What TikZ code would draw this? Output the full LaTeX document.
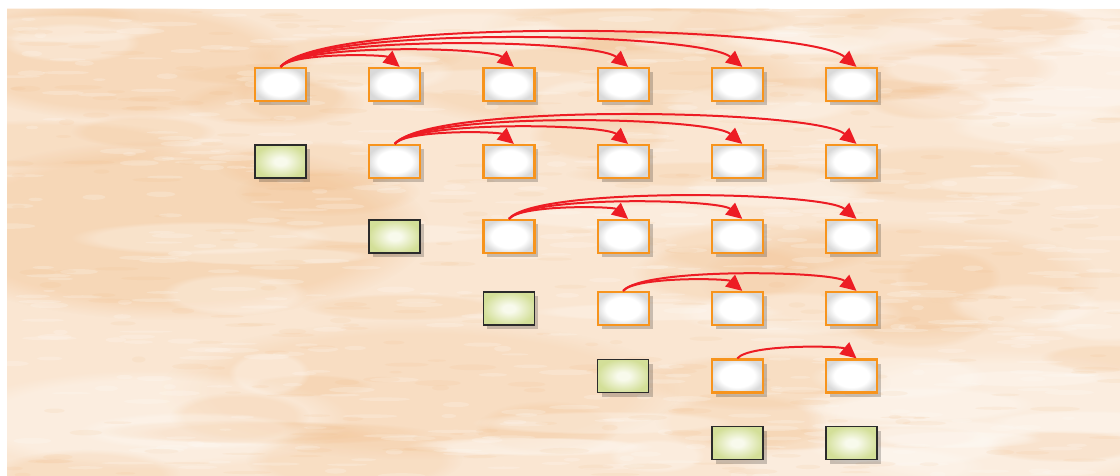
\documentclass[tikz,border=0pt]{standalone}
\usetikzlibrary{arrows.meta,shadows,fadings}
\definecolor{parch}{HTML}{FAE6D2}
\definecolor{parchdark}{HTML}{F0B57A}
\definecolor{parchlight}{HTML}{FFFCF8}
\definecolor{boxorange}{HTML}{F7941D}
\definecolor{linkred}{HTML}{ED1C24}
\definecolor{leafgreen}{HTML}{D3DF98}
\definecolor{leafcore}{HTML}{F8FAEC}
\definecolor{leafedge}{HTML}{2B2B2B}
\pgfdeclareradialshading{cellglow}{\pgfpoint{0bp}{0bp}}{%
  color(0bp)=(white); color(17bp)=(white); color(27bp)=(black!15); color(50bp)=(black!15)}
\pgfdeclareradialshading{leafglow}{\pgfpoint{0bp}{0bp}}{%
  color(0bp)=(leafcore); color(6bp)=(leafcore); color(26bp)=(leafgreen); color(50bp)=(leafgreen)}
\begin{document}
\begin{tikzpicture}[x=1pt,y=-1pt,
  cellbase/.style={rectangle, minimum width=51pt, minimum height=33pt, inner sep=0pt,
    drop shadow={fill=black, opacity=0.2, shadow xshift=4pt, shadow yshift=-4pt}},
  open/.style={cellbase, draw=boxorange, line width=2.2pt, shading=cellglow},
  done/.style={cellbase, draw=leafedge, line width=1.6pt, shading=leafglow},
  link/.style={draw=linkred, line width=2pt, -{Triangle[length=16pt,width=15pt]}},
  blob/.style={path fading=circle with fuzzy edge 20 percent},
]
\useasboundingbox (0,0) rectangle (1120,476);

% parchment backdrop
\begin{scope}
  \clip (7,9) rectangle (1120,476);
  \fill[parch] (7,9) rectangle (1120,476);
  % broad warm zones
  \fill[parchdark, opacity=.30, blob] (170,230) ellipse [x radius=260pt, y radius=90pt];
  \fill[parchdark, opacity=.25, blob] (120,60) ellipse [x radius=180pt, y radius=60pt];
  \fill[parchdark, opacity=.22, blob] (600,80) ellipse [x radius=220pt, y radius=50pt];
  \fill[parchdark, opacity=.18, blob] (420,390) ellipse [x radius=260pt, y radius=70pt];
  \fill[parchdark, opacity=.20, blob] (900,280) ellipse [x radius=200pt, y radius=60pt];
  \fill[parchlight, opacity=.45, blob] (1020,60) ellipse [x radius=180pt, y radius=70pt];
  \fill[parchlight, opacity=.35, blob] (1000,420) ellipse [x radius=200pt, y radius=70pt];
  \fill[parchlight, opacity=.35, blob] (150,420) ellipse [x radius=200pt, y radius=50pt];
  % soft clouds
  \pgfmathsetseed{17}
  \foreach \i in {1,...,40}{
    \pgfmathsetmacro\bx{7+rnd*1113}
    \pgfmathsetmacro\by{9+rnd*467}
    \pgfmathsetmacro\rx{50+rnd*110}
    \pgfmathsetmacro\ry{10+rnd*20}
    \fill[parchdark, opacity=.16, blob] (\bx,\by) ellipse [x radius=\rx pt, y radius=\ry pt];
  }
  \foreach \i in {1,...,40}{
    \pgfmathsetmacro\bx{7+rnd*1113}
    \pgfmathsetmacro\by{9+rnd*467}
    \pgfmathsetmacro\rx{40+rnd*100}
    \pgfmathsetmacro\ry{8+rnd*16}
    \fill[parchlight, opacity=.30, blob] (\bx,\by) ellipse [x radius=\rx pt, y radius=\ry pt];
  }
  % fine fibres
  \foreach \i in {1,...,500}{
    \pgfmathsetmacro\bx{7+rnd*1113}
    \pgfmathsetmacro\by{9+rnd*467}
    \pgfmathsetmacro\rx{6+rnd*22}
    \pgfmathsetmacro\ry{1+rnd*2}
    \fill[parchlight, opacity=.22] (\bx,\by) ellipse [x radius=\rx pt, y radius=\ry pt];
  }
  \foreach \i in {1,...,350}{
    \pgfmathsetmacro\bx{7+rnd*1113}
    \pgfmathsetmacro\by{9+rnd*467}
    \pgfmathsetmacro\rx{6+rnd*20}
    \pgfmathsetmacro\ry{1+rnd*2}
    \fill[parchdark, opacity=.10] (\bx,\by) ellipse [x radius=\rx pt, y radius=\ry pt];
  }
\end{scope}

% open cells
\foreach \r/\y in {1/84.5,2/161.5,3/236.5,4/308.5,5/376}{
  \foreach \c in {\r,...,6}{
    \pgfmathsetmacro\x{280.5+114.2*(\c-1)}
    \node[open] (n\r\c) at (\x,\y) {};
  }
}

% settled cells
\node[done] (n21) at (280.5,161.5) {};
\node[done] (n32) at (394.7,236.5) {};
\node[done] (n43) at (508.9,308.5) {};
\node[done] (n54) at (623.1,376) {};
\node[done] (n65) at (737.3,443) {};
\node[done] (n66) at (851.5,443) {};

% links from the first open cell of each row
\foreach \r in {1,...,5}{
  \pgfmathtruncatemacro\s{\r+1}
  \foreach \c in {\s,...,6}{
    \pgfmathsetmacro\L{(4+6.16*(\c-\r))/0.528}
    \draw[link] (n\r\r.north) .. controls +(50:\L pt) and +(140:\L pt) .. ([xshift=5pt]n\r\c.north);
  }
}
\end{tikzpicture}
\end{document}
